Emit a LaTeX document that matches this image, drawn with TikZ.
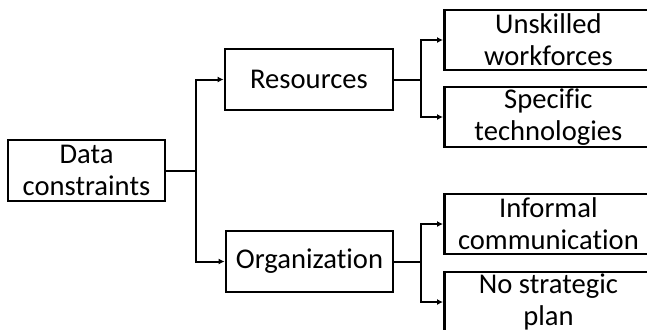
\documentclass[tikz,border=0pt]{standalone}
\usepackage{fontspec}
\setmainfont{Carlito}[Ligatures=NoCommon]
\usetikzlibrary{arrows.meta,positioning}

\begin{document}
\begin{tikzpicture}[
  x=0.5pt, y=-0.5pt,
  font=\fontsize{14.3}{16}\selectfont,
  box/.style={draw, line width=1.4pt, align=center, inner sep=0pt, minimum height=30.5pt},
  leaf/.style={box, anchor=west, minimum width=104pt, minimum height=30pt},
  arrow/.style={-{Latex[length=3pt,width=3pt]}, line width=1pt}
]
\useasboundingbox (0,0) rectangle (647,329);
\clip (0,0) rectangle (647,329);

\node[box, minimum width=78.5pt] (data) at (86.5,170.5) {Data\\constraints};
\node[box, minimum width=84pt] (res) at (309,79.5) {Resources};
\node[box, minimum width=83.5pt] (org) at (309.5,261.5) {Organization};

\node[leaf] (unsk) at (443,40) {Unskilled\\workforces};
\node[leaf] (tech) at (443,117) {Specific\\technologies};
\node[leaf] (info) at (443,224) {Informal\\communication};
\node[leaf] (plan) at (443,302) {No strategic\\plan};

\draw[arrow] (data.east) -- ++(30,0) |- (res.west);
\draw[arrow] (data.east) -- ++(30,0) |- (org.west);
\draw[arrow] (res.east) -- ++(27,0) |- (unsk.west);
\draw[arrow] (res.east) -- ++(27,0) |- (tech.west);
\draw[arrow] (org.east) -- ++(27,0) |- (info.west);
\draw[arrow] (org.east) -- ++(27,0) |- (plan.west);
\end{tikzpicture}
\end{document}
